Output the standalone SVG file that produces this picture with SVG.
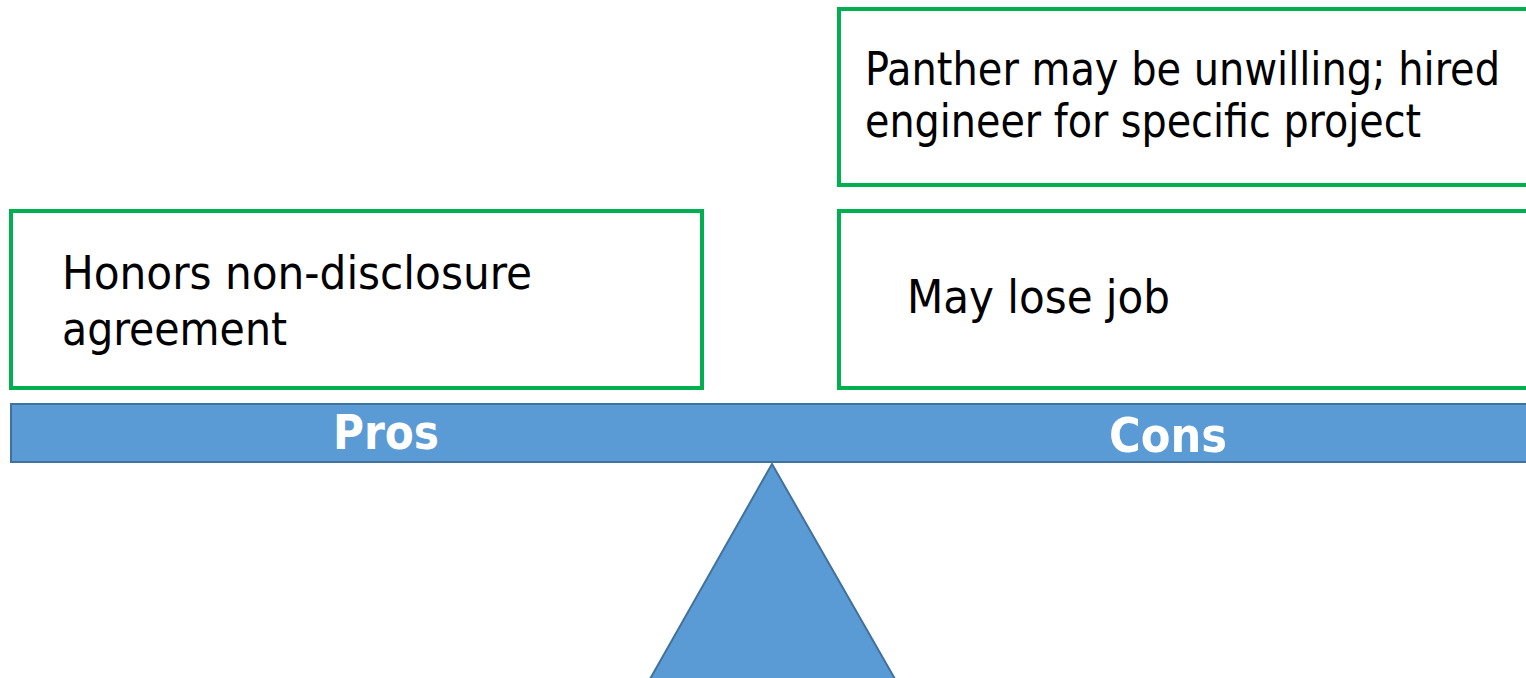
<svg xmlns="http://www.w3.org/2000/svg" width="1526" height="678" viewBox="0 0 1526 678">
<style>
.box{fill:#fff;stroke:#00B050;stroke-width:4}
.blue{fill:#5B9BD5;stroke:#41719C;stroke-width:2}
.t{font-family:"DejaVu Sans Condensed","DejaVu Sans",sans-serif;font-size:46px;fill:#000}
.lbl{font-family:"DejaVu Sans Condensed","DejaVu Sans",sans-serif;font-size:48px;font-weight:bold;fill:#fff;text-anchor:middle}
</style>
<rect width="1526" height="678" fill="#fff"/>
<g id="pro1">
<rect class="box" x="11" y="211" width="691" height="177"/>
<text class="t" x="62" y="289" textLength="470" lengthAdjust="spacingAndGlyphs">Honors non-disclosure</text>
<text class="t" x="62" y="345" textLength="225" lengthAdjust="spacingAndGlyphs">agreement</text>
</g>
<g id="con1">
<rect class="box" x="839" y="9" width="700" height="176"/>
<text class="t" x="865" y="85" textLength="635" lengthAdjust="spacingAndGlyphs">Panther may be unwilling; hired</text>
<text class="t" x="865" y="137" textLength="556" lengthAdjust="spacingAndGlyphs">engineer for specific project</text>
</g>
<g id="con2">
<rect class="box" x="839" y="211" width="700" height="177"/>
<text class="t" x="907" y="313" textLength="263" lengthAdjust="spacingAndGlyphs">May lose job</text>
</g>
<g id="beam">
<rect class="blue" x="11" y="404" width="1530" height="58"/>
<text class="lbl" x="386" y="449" textLength="106" lengthAdjust="spacingAndGlyphs">Pros</text>
<text class="lbl" x="1168" y="452" textLength="118" lengthAdjust="spacingAndGlyphs">Cons</text>
</g>
<g id="fulcrum">
<polygon class="blue" points="772,464 895,679 650,679"/>
</g>
<g id="connectors"></g>
</svg>
